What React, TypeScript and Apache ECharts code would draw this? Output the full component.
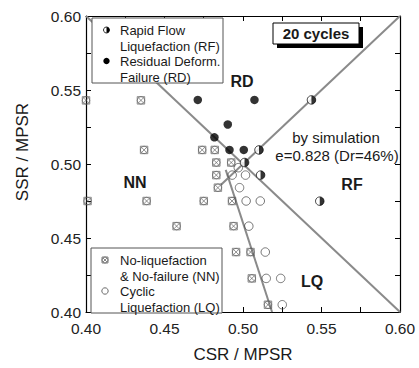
import React, { useEffect, useRef } from 'react';
import * as echarts from 'echarts';

// ---- data (CSR/MPSR, SSR/MPSR) ----
const nnPoints: number[][] = [
  [0.400, 0.543], [0.435, 0.543],
  [0.437, 0.5095], [0.474, 0.5095], [0.482, 0.5095],
  [0.483, 0.501], [0.4925, 0.501],
  [0.483, 0.4925], [0.484, 0.484],
  [0.401, 0.475], [0.4386, 0.475], [0.475, 0.475], [0.493, 0.475],
  [0.4577, 0.458], [0.494, 0.458],
  [0.4956, 0.4405], [0.5048, 0.4405],
  [0.5056, 0.4227],
  [0.5159, 0.4049],
];
const lqPoints: number[][] = [
  [0.497, 0.4975],
  [0.4931, 0.4925], [0.5016, 0.4925],
  [0.4978, 0.484],
  [0.502, 0.475], [0.511, 0.475],
  [0.5037, 0.458],
  [0.5142, 0.4405],
  [0.5148, 0.4227], [0.524, 0.4227],
  [0.525, 0.4049],
];
const rdPoints: number[][] = [
  [0.4712, 0.5433], [0.5073, 0.5433],
  [0.4903, 0.5267],
  [0.4818, 0.518],
  [0.4914, 0.5095], [0.5005, 0.5095],
];
const rfPoints: number[][] = [
  [0.5436, 0.5433],
  [0.5102, 0.5095],
  [0.501, 0.501],
  [0.5112, 0.4925],
  [0.5489, 0.4749],
];
const boundaryRD: number[][] = [[0.40, 0.60], [0.60, 0.40]];
const boundaryRF: number[][] = [[0.486, 0.486], [0.60, 0.60]];
const boundaryLQ: number[][] = [[0.489, 0.496], [0.5185, 0.40]];

const axisMin = 0.4;
const axisMax = 0.6;
const tickStep = 0.025;

const FONT = '"Liberation Sans", Arial, Helvetica, sans-serif';
const NN_PATH =
  'path://M0,0H10V10H0Z M1.5,1.5L8.5,8.5 M8.5,1.5L1.5,8.5 M10,5A5,5 0 1,1 0,5A5,5 0 1,1 10,5';
const HALF_PATH = 'path://M0,0A5,5 0 0,1 0,10Z';

const labelFmt = (v: number) =>
  Math.round(v * 1000) % 50 === 0 ? v.toFixed(2) : '';

function makeAxis(position: string, showLabel: boolean) {
  return {
    type: 'value',
    position,
    min: axisMin,
    max: axisMax,
    interval: tickStep,
    axisLine: { show: true, onZero: false, lineStyle: { color: '#000', width: 1.2 } },
    axisTick: { show: true, inside: true, length: 5, lineStyle: { color: '#000', width: 1 } },
    axisLabel: showLabel
      ? {
          show: true,
          formatter: labelFmt,
          color: '#222',
          fontSize: 15.5,
          fontFamily: FONT,
          margin: position === 'left' ? 5 : 8,
        }
      : { show: false },
    splitLine: { show: false },
  };
}

export default function App() {
  const ref = useRef<HTMLDivElement>(null);

  useEffect(() => {
    if (!ref.current) return;
    const chart = echarts.init(ref.current, undefined, { renderer: 'svg' });

    const text = (
      x: number,
      y: number,
      t: string,
      font: string,
      align: string = 'left',
      extra: any = {}
    ) => ({
      type: 'text',
      x,
      y,
      z: 100,
      ...extra,
      style: { text: t, font, fill: '#1a1a1a', align, verticalAlign: 'middle' },
    });

    const legendFont = `13px ${FONT}`;
    const regionFont = `bold 16px ${FONT}`;

    const graphic: any[] = [
      // y axis title
      text(22, 152, 'SSR / MPSR', `17px ${FONT}`, 'center', { rotation: Math.PI / 2 }),
      // legend box 1
      {
        type: 'rect', z: 90,
        shape: { x: 92, y: 18, width: 131, height: 65 },
        style: { fill: '#fff', stroke: '#555', lineWidth: 1 },
      },
      {
        type: 'circle', z: 95,
        shape: { cx: 106.5, cy: 30, r: 3 },
        style: { fill: '#fff', stroke: '#000', lineWidth: 0.8 },
      },
      {
        type: 'sector', z: 96,
        shape: { cx: 106.5, cy: 30, r: 3, r0: 0, startAngle: -Math.PI / 2, endAngle: Math.PI / 2 },
        style: { fill: '#000' },
      },
      text(120, 30, 'Rapid Flow', legendFont),
      text(120, 46, 'Liquefaction (RF)', legendFont),
      {
        type: 'circle', z: 95,
        shape: { cx: 106.5, cy: 61, r: 3.2 },
        style: { fill: '#000' },
      },
      text(120, 61.5, 'Residual Deform.', legendFont),
      text(120, 77, 'Failure (RD)', legendFont),
      // legend box 2
      {
        type: 'rect', z: 90,
        shape: { x: 91, y: 248, width: 131, height: 65 },
        style: { fill: '#fff', stroke: '#555', lineWidth: 1 },
      },
      {
        type: 'group', z: 95, x: 102, y: 257,
        children: [
          { type: 'rect', z: 95, shape: { x: 0, y: 0, width: 6, height: 6 }, style: { fill: 'none', stroke: '#555', lineWidth: 0.7 } },
          { type: 'line', z: 95, shape: { x1: 1, y1: 1, x2: 5, y2: 5 }, style: { stroke: '#555', lineWidth: 0.7 } },
          { type: 'line', z: 95, shape: { x1: 5, y1: 1, x2: 1, y2: 5 }, style: { stroke: '#555', lineWidth: 0.7 } },
          { type: 'circle', z: 95, shape: { cx: 3, cy: 3, r: 3 }, style: { fill: 'none', stroke: '#555', lineWidth: 0.7 } },
        ],
      },
      text(120, 260, 'No-liquefaction', legendFont),
      text(120, 276, '& No-failure (NN)', legendFont),
      {
        type: 'circle', z: 95,
        shape: { cx: 105, cy: 291, r: 3.2 },
        style: { fill: 'none', stroke: '#444', lineWidth: 0.8 },
      },
      text(120, 291.5, 'Cyclic', legendFont),
      text(120, 307, 'Liquefaction (LQ)', legendFont),
      // region labels
      text(242, 81, 'RD', regionFont, 'center'),
      text(135, 182, 'NN', regionFont, 'center'),
      text(352, 184, 'RF', regionFont, 'center'),
      text(312, 281.5, 'LQ', regionFont, 'center'),
      // 20 cycles box with shadow
      {
        type: 'rect', z: 90,
        shape: { x: 277, y: 27, width: 86, height: 21 },
        style: { fill: '#000' },
      },
      {
        type: 'rect', z: 91,
        shape: { x: 273, y: 23, width: 86, height: 21 },
        style: { fill: '#fff', stroke: '#000', lineWidth: 1 },
      },
      text(316, 33.5, '20 cycles', `bold 15px ${FONT}`, 'center'),
      // simulation note
      text(336, 137, 'by simulation', `15px ${FONT}`, 'center'),
      text(337, 155, 'e=0.828 (Dr=46%)', `15px ${FONT}`, 'center'),
    ];

    const lineStyle = { color: '#8a8a8a', width: 2 };

    chart.setOption({
      animation: false,
      backgroundColor: '#fff',
      grid: { left: 86, top: 16, width: 314, height: 299, containLabel: false },
      xAxis: [
        {
          ...makeAxis('bottom', true),
          name: 'CSR / MPSR',
          nameLocation: 'middle',
          nameGap: 34,
          nameTextStyle: { fontSize: 17, fontFamily: FONT, color: '#1a1a1a' },
        },
        makeAxis('top', false),
      ],
      yAxis: [makeAxis('left', true), makeAxis('right', false)],
      graphic,
      series: [
        { type: 'line', data: boundaryRD, symbol: 'none', lineStyle, z: 1, silent: true },
        { type: 'line', data: boundaryRF, symbol: 'none', lineStyle, z: 1, silent: true },
        { type: 'line', data: boundaryLQ, symbol: 'none', lineStyle, z: 1, silent: true },
        {
          type: 'scatter', data: nnPoints, symbol: NN_PATH, symbolSize: 7.5, z: 3,
          itemStyle: { color: 'transparent', borderColor: '#555', borderWidth: 0.8 },
        },
        {
          type: 'scatter', data: lqPoints, symbol: 'circle', symbolSize: 8.5, z: 3,
          itemStyle: { color: 'transparent', borderColor: '#444', borderWidth: 0.9 },
        },
        {
          type: 'scatter', data: rdPoints, symbol: 'circle', symbolSize: 8.5, z: 4,
          itemStyle: { color: '#000' },
        },
        {
          type: 'scatter', data: rfPoints, symbol: 'circle', symbolSize: 8.5, z: 4,
          itemStyle: { color: '#fff', borderColor: '#000', borderWidth: 0.9 },
        },
        {
          type: 'scatter', data: rfPoints, symbol: HALF_PATH, symbolSize: [4.25, 8.5],
          symbolOffset: [2.125, 0], z: 5,
          itemStyle: { color: '#000' },
        },
      ],
    });

    return () => chart.dispose();
  }, []);

  return (
    <div
      ref={ref}
      style={{ position: 'fixed', left: 0, top: 0, width: 419, height: 368, background: '#fff' }}
    />
  );
}
